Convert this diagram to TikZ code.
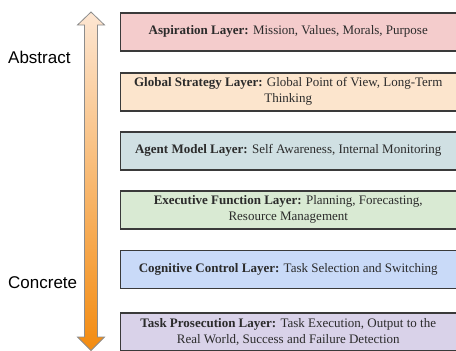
\documentclass[tikz,border=0pt]{standalone}
\usepackage{fontspec}
\setmainfont{Liberation Serif}
\newfontfamily\labelfont{Liberation Sans}
\definecolor{c1}{HTML}{F4CCCC}
\definecolor{c2}{HTML}{FCE5CD}
\definecolor{c3}{HTML}{D0E0E3}
\definecolor{c4}{HTML}{D9EAD3}
\definecolor{c5}{HTML}{C9DAF8}
\definecolor{c6}{HTML}{D9D2E9}
\definecolor{bordc}{HTML}{3A3A3A}
\definecolor{txtc}{HTML}{2B2B2B}
\definecolor{arrtop}{HTML}{FDE6D2}
\definecolor{arrbot}{HTML}{F38B10}
\definecolor{arredge}{HTML}{8C8C8C}
\tikzset{
  layerbox/.style={draw=bordc, line width=1.5pt, minimum width=336pt, minimum height=38pt,
    inner sep=0pt, anchor=north west, align=center, text=txtc,
    font=\fontsize{13}{16}\selectfont},
  sidelabel/.style={font=\labelfont\fontsize{17}{20}\selectfont, text=black, anchor=west, inner sep=0pt}
}
\begin{document}
\begin{tikzpicture}[x=1pt,y=-1pt]
\useasboundingbox (0,0) rectangle (456,351);
% double arrow
\shade[top color=arrtop, bottom color=arrbot, draw=arredge, line width=0.8pt]
  (91,12) -- (104.5,25) -- (97.5,25) -- (97.5,337) -- (104.5,337) -- (91,350.5)
  -- (77.5,337) -- (84.5,337) -- (84.5,25) -- (77.5,25) -- cycle;
\node[sidelabel] (abs) at (8,57) {Abstract};
\node[sidelabel] (con) at (8,283) {Concrete};
\node[layerbox, fill=c1] (l1) at (119.5,12) {\textbf{Aspiration Layer:} Mission, Values, Morals, Purpose};
\node[layerbox, fill=c2] (l2) at (119.5,72) {\textbf{Global Strategy Layer:} Global Point of View, Long-Term\\Thinking};
\node[layerbox, fill=c3] (l3) at (119.5,131) {\textbf{Agent Model Layer:} Self Awareness, Internal Monitoring};
\node[layerbox, fill=c4] (l4) at (119.5,190) {\textbf{Executive Function Layer:} Planning, Forecasting,\\Resource Management};
\node[layerbox, fill=c5] (l5) at (119.5,249.5) {\textbf{Cognitive Control Layer:} Task Selection and Switching};
\node[layerbox, fill=c6] (l6) at (119.5,312) {\textbf{Task Prosecution Layer:} Task Execution, Output to the\\Real World, Success and Failure Detection};
\end{tikzpicture}
\end{document}
